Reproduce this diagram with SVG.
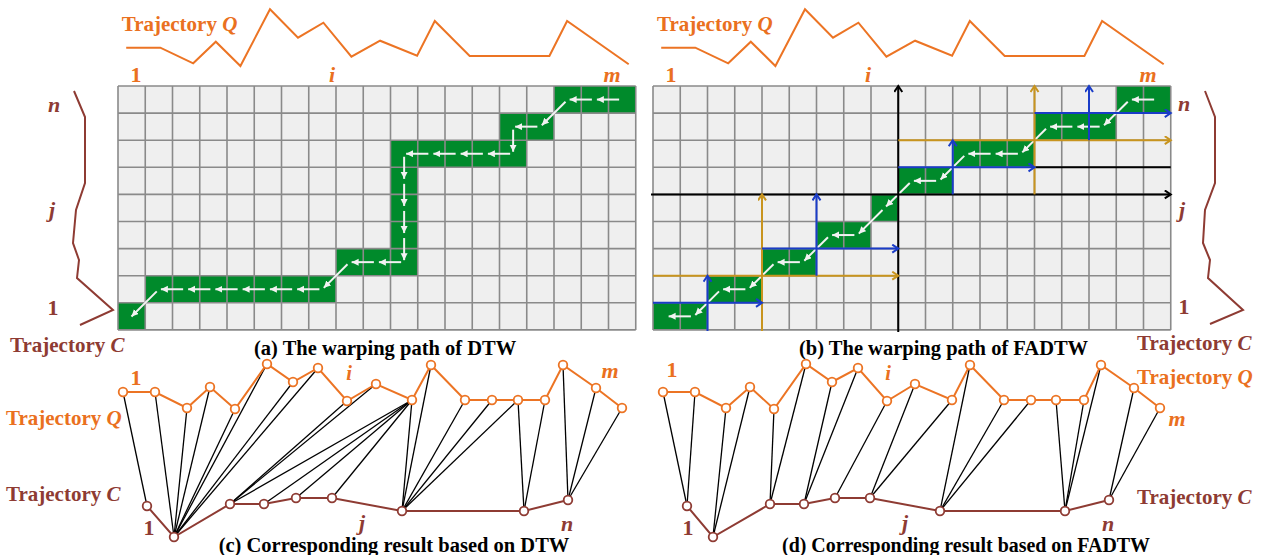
<svg xmlns="http://www.w3.org/2000/svg" xmlns:xlink="http://www.w3.org/1999/xlink" width="1261" height="555" viewBox="0 0 1261 555">
<style>
text{font-family:"Liberation Serif","Times New Roman",serif;font-weight:bold}
.or{fill:#EA7020}
.br{fill:#8E3B33}
.bk{fill:#000}
.it{font-style:italic}
.t21{font-size:21px}
.t20{font-size:20.5px}
.t22{font-size:22px}
.gl{fill:none;stroke:#8A8A8A;stroke-width:1.6}
.gc{fill:#008A2B}
.wa{stroke:#F2F2F2;stroke-width:2;fill:none;marker-end:url(#aw)}
.lb{stroke:#1A3CC8;stroke-width:2;fill:none;marker-end:url(#mb)}
.lg{stroke:#C8941E;stroke-width:2;fill:none;marker-end:url(#mg)}
.lk{stroke:#000;stroke-width:2;fill:none}
.qline{fill:none;stroke:#EC7424;stroke-width:2}
.cline{fill:none;stroke:#8E3B33;stroke-width:2}
.conn line{stroke:#000;stroke-width:1.3}
.qn circle{fill:#fff;stroke:#EC7424;stroke-width:1.8}
.cn circle{fill:#fff;stroke:#8E3B33;stroke-width:1.8}
</style>
<defs>
<marker id="aw" markerUnits="userSpaceOnUse" markerWidth="9" markerHeight="8" refX="7" refY="3.5" orient="auto"><path d="M0,0 L7,3.5 L0,7 z" fill="#F2F2F2"/></marker>
<marker id="mb" markerUnits="userSpaceOnUse" markerWidth="10" markerHeight="10" refX="7" refY="4.5" orient="auto"><path d="M1,0.5 L7,4.5 L1,8.5" fill="none" stroke="#1A3CC8" stroke-width="2"/></marker>
<marker id="mg" markerUnits="userSpaceOnUse" markerWidth="10" markerHeight="10" refX="7" refY="4.5" orient="auto"><path d="M1,0.5 L7,4.5 L1,8.5" fill="none" stroke="#C8941E" stroke-width="2"/></marker>
<marker id="mk" markerUnits="userSpaceOnUse" markerWidth="10" markerHeight="10" refX="7" refY="4.5" orient="auto"><path d="M1,0.5 L7,4.5 L1,8.5" fill="none" stroke="#000" stroke-width="2"/></marker>
<path id="gridlines" class="gl" d="M118,86V329.9M145.25,86V329.9M172.5,86V329.9M199.75,86V329.9M227,86V329.9M254.25,86V329.9M281.5,86V329.9M308.75,86V329.9M336,86V329.9M363.25,86V329.9M390.5,86V329.9M417.75,86V329.9M445,86V329.9M472.25,86V329.9M499.5,86V329.9M526.75,86V329.9M554,86V329.9M581.25,86V329.9M608.5,86V329.9M635.75,86V329.9M118,86H635.75M118,113.1H635.75M118,140.2H635.75M118,167.3H635.75M118,194.4H635.75M118,221.5H635.75M118,248.6H635.75M118,275.7H635.75M118,302.8H635.75M118,329.9H635.75"/>
</defs>

<!-- Panel (a) -->
<g id="panel-a">
  <text class="or t21" x="121.7" y="31">Trajectory <tspan class="it">Q</tspan></text>
  <polyline class="qline" points="126.2,47.7 160.3,47.7 193.2,63.3 215.8,41.7 240.4,66 270,9.3 298,37.7 323.4,22.7 351.4,56.7 380.1,40.7 417.1,55.7 434.8,21 469.7,56 549.4,56 567.1,21 628.7,64.3"/>
  <text class="or t22" x="136" y="82" text-anchor="middle">1</text>
  <text class="or t22 it" x="332" y="82" text-anchor="middle">i</text>
  <text class="or t22 it" x="612" y="82" text-anchor="middle">m</text>
  <text class="br t22 it" x="54" y="112" text-anchor="middle">n</text>
  <text class="br t22 it" x="52" y="217" text-anchor="middle">j</text>
  <text class="br t22" x="53" y="315" text-anchor="middle">1</text>
  <polyline class="cline" points="74,91 85,117 85,183 76,210 73,243 79,260 77,278 113,310 80,325"/>
  <text class="br t21" x="10" y="352">Trajectory <tspan class="it">C</tspan></text>
  <rect x="118" y="86" width="517.75" height="243.9" fill="#EFEFEF"/>
  <g id="path-a">
    <rect class="gc" x="118" y="302.8" width="27.25" height="27.1"/>
    <rect class="gc" x="145.25" y="275.7" width="190.75" height="27.1"/>
    <rect class="gc" x="336" y="248.6" width="81.75" height="27.1"/>
    <rect class="gc" x="390.5" y="167.3" width="27.25" height="81.3"/>
    <rect class="gc" x="390.5" y="140.2" width="136.25" height="27.1"/>
    <rect class="gc" x="499.5" y="113.1" width="54.5" height="27.1"/>
    <rect class="gc" x="554" y="86" width="81.75" height="27.1"/>
  </g>
  <use xlink:href="#gridlines" href="#gridlines"/>
  <g id="arrows-a">
    <line class="wa" x1="619.13" y1="99.55" x2="596.88" y2="99.55"/>
    <line class="wa" x1="591.88" y1="99.55" x2="569.63" y2="99.55"/>
    <line class="wa" x1="565.5" y1="101.67" x2="541.8" y2="125.24"/>
    <line class="wa" x1="537.38" y1="126.65" x2="515.13" y2="126.65"/>
    <line class="wa" x1="513.13" y1="129.65" x2="513.13" y2="151.75"/>
    <line class="wa" x1="510.13" y1="153.75" x2="487.88" y2="153.75"/>
    <line class="wa" x1="482.88" y1="153.75" x2="460.63" y2="153.75"/>
    <line class="wa" x1="455.63" y1="153.75" x2="433.38" y2="153.75"/>
    <line class="wa" x1="428.38" y1="153.75" x2="406.13" y2="153.75"/>
    <line class="wa" x1="404.13" y1="156.75" x2="404.13" y2="178.85"/>
    <line class="wa" x1="404.13" y1="183.85" x2="404.13" y2="205.95"/>
    <line class="wa" x1="404.13" y1="210.95" x2="404.13" y2="233.05"/>
    <line class="wa" x1="404.13" y1="238.05" x2="404.13" y2="260.15"/>
    <line class="wa" x1="401.13" y1="262.15" x2="378.88" y2="262.15"/>
    <line class="wa" x1="373.88" y1="262.15" x2="351.63" y2="262.15"/>
    <line class="wa" x1="347.5" y1="264.27" x2="323.8" y2="287.84"/>
    <line class="wa" x1="319.38" y1="289.25" x2="297.13" y2="289.25"/>
    <line class="wa" x1="292.13" y1="289.25" x2="269.88" y2="289.25"/>
    <line class="wa" x1="264.88" y1="289.25" x2="242.63" y2="289.25"/>
    <line class="wa" x1="237.63" y1="289.25" x2="215.38" y2="289.25"/>
    <line class="wa" x1="210.38" y1="289.25" x2="188.13" y2="289.25"/>
    <line class="wa" x1="183.13" y1="289.25" x2="160.88" y2="289.25"/>
    <line class="wa" x1="156.75" y1="291.37" x2="131.5" y2="316.5"/>
  </g>
  <text class="bk t20" x="254" y="355">(a) The warping path of DTW</text>
</g>

<!-- Panel (b) -->
<g id="panel-b">
  <text class="or t21" x="657" y="31">Trajectory <tspan class="it">Q</tspan></text>
  <polyline class="qline" points="661.2,47.7 695.3,47.7 728.2,63.3 750.8,41.7 775.4,66 805,9.3 833,37.7 858.4,22.7 886.4,56.7 915.1,40.7 952.1,55.7 969.8,21 1004.7,56 1084.4,56 1102.1,21 1163.7,64.3"/>
  <text class="or t22" x="671" y="82" text-anchor="middle">1</text>
  <text class="or t22 it" x="868" y="82" text-anchor="middle">i</text>
  <text class="or t22 it" x="1148" y="82" text-anchor="middle">m</text>
  <text class="br t22 it" x="1184" y="111" text-anchor="middle">n</text>
  <text class="br t22 it" x="1182" y="217" text-anchor="middle">j</text>
  <text class="br t22" x="1184" y="314" text-anchor="middle">1</text>
  <polyline class="cline" points="1205,91 1215,117 1215,183 1205,210 1203,243 1210,260 1208,278 1243,310 1210,324"/>
  <text class="br t21" x="1137" y="350">Trajectory <tspan class="it">C</tspan></text>
  <rect x="653" y="86" width="517.75" height="243.9" fill="#EFEFEF"/>
  <g id="path-b">
    <rect class="gc" x="653" y="302.8" width="54.5" height="27.1"/>
    <rect class="gc" x="707.5" y="275.7" width="54.5" height="27.1"/>
    <rect class="gc" x="762" y="248.6" width="54.5" height="27.1"/>
    <rect class="gc" x="816.5" y="221.5" width="54.5" height="27.1"/>
    <rect class="gc" x="871" y="194.4" width="27.25" height="27.1"/>
    <rect class="gc" x="898.25" y="167.3" width="54.5" height="27.1"/>
    <rect class="gc" x="952.75" y="140.2" width="81.75" height="27.1"/>
    <rect class="gc" x="1034.5" y="113.1" width="81.75" height="27.1"/>
    <rect class="gc" x="1116.25" y="86" width="54.5" height="27.1"/>
  </g>
  <use xlink:href="#gridlines" href="#gridlines" x="535"/>
  <g id="arrows-b">
    <line class="wa" x1="1154.13" y1="99.55" x2="1131.88" y2="99.55"/>
    <line class="wa" x1="1127.75" y1="101.67" x2="1104.05" y2="125.24"/>
    <line class="wa" x1="1099.63" y1="126.65" x2="1077.38" y2="126.65"/>
    <line class="wa" x1="1072.38" y1="126.65" x2="1050.13" y2="126.65"/>
    <line class="wa" x1="1046" y1="128.77" x2="1022.3" y2="152.34"/>
    <line class="wa" x1="1017.88" y1="153.75" x2="995.63" y2="153.75"/>
    <line class="wa" x1="990.63" y1="153.75" x2="968.38" y2="153.75"/>
    <line class="wa" x1="964.25" y1="155.87" x2="940.55" y2="179.44"/>
    <line class="wa" x1="936.13" y1="180.85" x2="913.88" y2="180.85"/>
    <line class="wa" x1="909.75" y1="182.97" x2="886.05" y2="206.54"/>
    <line class="wa" x1="882.5" y1="210.07" x2="858.8" y2="233.64"/>
    <line class="wa" x1="854.38" y1="235.05" x2="832.13" y2="235.05"/>
    <line class="wa" x1="828" y1="237.17" x2="804.3" y2="260.74"/>
    <line class="wa" x1="799.88" y1="262.15" x2="777.63" y2="262.15"/>
    <line class="wa" x1="773.5" y1="264.27" x2="749.8" y2="287.84"/>
    <line class="wa" x1="745.38" y1="289.25" x2="723.13" y2="289.25"/>
    <line class="wa" x1="719" y1="291.37" x2="695.3" y2="314.94"/>
    <line class="wa" x1="690.88" y1="316.35" x2="668.63" y2="316.35"/>
  </g>
  <g id="bounds-b">
    <line class="lk" x1="1034.5" y1="167.3" x2="1170.75" y2="167.3"/>
    <line class="lk" x1="898.25" y1="332" x2="898.25" y2="86" marker-end="url(#mk)"/>
    <line class="lk" x1="651" y1="194.4" x2="1170.75" y2="194.4" marker-end="url(#mk)"/>
    <line class="lg" x1="653" y1="275.7" x2="898.25" y2="275.7"/>
    <line class="lg" x1="762" y1="331" x2="762" y2="194.4"/>
    <line class="lg" x1="898.25" y1="140.2" x2="1170.75" y2="140.2"/>
    <line class="lg" x1="1034.5" y1="194.4" x2="1034.5" y2="86"/>
    <line class="lb" x1="653" y1="302.8" x2="762" y2="302.8"/>
    <line class="lb" x1="707.5" y1="331" x2="707.5" y2="275.7"/>
    <line class="lb" x1="762" y1="248.6" x2="898.25" y2="248.6"/>
    <line class="lb" x1="816.5" y1="275.7" x2="816.5" y2="194.4"/>
    <line class="lb" x1="898.25" y1="167.3" x2="1034.5" y2="167.3"/>
    <line class="lb" x1="952.75" y1="194.4" x2="952.75" y2="140.2"/>
    <line class="lb" x1="1034.5" y1="113.1" x2="1170.75" y2="113.1"/>
    <line class="lb" x1="1089" y1="140.2" x2="1089" y2="86"/>
  </g>
  <text class="bk t20" x="799" y="355">(b) The warping path of FADTW</text>
</g>

<!-- Panel (c) -->
<g id="panel-c">
  <text class="or t21" x="6" y="425">Trajectory <tspan class="it">Q</tspan></text>
  <text class="br t21" x="6" y="501">Trajectory <tspan class="it">C</tspan></text>
  <text class="or t22" x="136" y="385" text-anchor="middle">1</text>
  <text class="or t20 it" x="349" y="380" text-anchor="middle">i</text>
  <text class="or t22 it" x="610" y="378" text-anchor="middle">m</text>
  <text class="br t22" x="149" y="535" text-anchor="middle">1</text>
  <text class="br t22 it" x="362" y="530" text-anchor="middle">j</text>
  <text class="br t22 it" x="567" y="531" text-anchor="middle">n</text>
  <g class="conn" id="connectors-c">
    <line x1="123" y1="392" x2="147" y2="506"/>
    <line x1="155" y1="392" x2="174" y2="537"/>
    <line x1="187" y1="408" x2="174" y2="537"/>
    <line x1="210" y1="387" x2="174" y2="537"/>
    <line x1="235" y1="409" x2="174" y2="537"/>
    <line x1="267" y1="364" x2="174" y2="537"/>
    <line x1="293" y1="382" x2="174" y2="537"/>
    <line x1="318" y1="368" x2="174" y2="537"/>
    <line x1="347" y1="401" x2="230" y2="504"/>
    <line x1="376" y1="384" x2="230" y2="504"/>
    <line x1="412" y1="400" x2="230" y2="504"/>
    <line x1="412" y1="400" x2="264" y2="504"/>
    <line x1="412" y1="400" x2="296" y2="498"/>
    <line x1="412" y1="400" x2="332" y2="498"/>
    <line x1="412" y1="400" x2="402" y2="511"/>
    <line x1="431" y1="365" x2="402" y2="511"/>
    <line x1="465" y1="400" x2="402" y2="511"/>
    <line x1="492" y1="400" x2="402" y2="511"/>
    <line x1="518" y1="400" x2="402" y2="511"/>
    <line x1="518" y1="400" x2="524" y2="511"/>
    <line x1="545" y1="400" x2="524" y2="511"/>
    <line x1="563" y1="365" x2="568" y2="500"/>
    <line x1="596" y1="388" x2="568" y2="500"/>
    <line x1="622" y1="408" x2="568" y2="500"/>
  </g>
  <polyline class="qline" points="123,392 155,392 187,408 210,387 235,409 267,364 293,382 318,368 347,401 376,384 412,400 431,365 465,400 492,400 518,400 545,400 563,365 596,388 622,408"/>
  <polyline class="cline" points="147,506 174,537 230,504 264,504 296,498 332,498 402,511 524,511 568,500"/>
  <g class="qn">
    <circle cx="123" cy="392" r="4.3"/><circle cx="155" cy="392" r="4.3"/><circle cx="187" cy="408" r="4.3"/><circle cx="210" cy="387" r="4.3"/><circle cx="235" cy="409" r="4.3"/><circle cx="267" cy="364" r="4.3"/><circle cx="293" cy="382" r="4.3"/><circle cx="318" cy="368" r="4.3"/><circle cx="347" cy="401" r="4.3"/><circle cx="376" cy="384" r="4.3"/><circle cx="412" cy="400" r="4.3"/><circle cx="431" cy="365" r="4.3"/><circle cx="465" cy="400" r="4.3"/><circle cx="492" cy="400" r="4.3"/><circle cx="518" cy="400" r="4.3"/><circle cx="545" cy="400" r="4.3"/><circle cx="563" cy="365" r="4.3"/><circle cx="596" cy="388" r="4.3"/><circle cx="622" cy="408" r="4.3"/>
  </g>
  <g class="cn">
    <circle cx="147" cy="506" r="4.3"/><circle cx="174" cy="537" r="4.3"/><circle cx="230" cy="504" r="4.3"/><circle cx="264" cy="504" r="4.3"/><circle cx="296" cy="498" r="4.3"/><circle cx="332" cy="498" r="4.3"/><circle cx="402" cy="511" r="4.3"/><circle cx="524" cy="511" r="4.3"/><circle cx="568" cy="500" r="4.3"/>
  </g>
  <text class="bk t20" x="394" y="552" text-anchor="middle">(c) Corresponding result based on DTW</text>
</g>

<!-- Panel (d) -->
<g id="panel-d">
  <text class="or t21" x="1137" y="384">Trajectory <tspan class="it">Q</tspan></text>
  <text class="br t21" x="1137" y="504">Trajectory <tspan class="it">C</tspan></text>
  <text class="or t22" x="672" y="377" text-anchor="middle">1</text>
  <text class="or t20 it" x="888" y="380" text-anchor="middle">i</text>
  <text class="or t22 it" x="1177" y="426" text-anchor="middle">m</text>
  <text class="br t22" x="688" y="535" text-anchor="middle">1</text>
  <text class="br t22 it" x="905" y="530" text-anchor="middle">j</text>
  <text class="br t22 it" x="1108" y="531" text-anchor="middle">n</text>
  <g class="conn" id="connectors-d">
    <line x1="663" y1="392" x2="687" y2="506"/>
    <line x1="695" y1="392" x2="687" y2="506"/>
    <line x1="726" y1="408" x2="713" y2="537"/>
    <line x1="750" y1="387" x2="713" y2="537"/>
    <line x1="774" y1="409" x2="770" y2="504"/>
    <line x1="806" y1="364" x2="770" y2="504"/>
    <line x1="832" y1="382" x2="804" y2="504"/>
    <line x1="858" y1="368" x2="804" y2="504"/>
    <line x1="887" y1="401" x2="835" y2="498"/>
    <line x1="915" y1="384" x2="870" y2="498"/>
    <line x1="952" y1="400" x2="870" y2="498"/>
    <line x1="970" y1="365" x2="940" y2="511"/>
    <line x1="1004" y1="400" x2="940" y2="511"/>
    <line x1="1031" y1="400" x2="940" y2="511"/>
    <line x1="1056" y1="400" x2="1065" y2="511"/>
    <line x1="1084" y1="400" x2="1065" y2="511"/>
    <line x1="1101" y1="365" x2="1065" y2="511"/>
    <line x1="1134" y1="388" x2="1109" y2="500"/>
    <line x1="1160" y1="408" x2="1109" y2="500"/>
  </g>
  <polyline class="qline" points="663,392 695,392 726,408 750,387 774,409 806,364 832,382 858,368 887,401 915,384 952,400 970,365 1004,400 1031,400 1056,400 1084,400 1101,365 1134,388 1160,408"/>
  <polyline class="cline" points="687,506 713,537 770,504 804,504 835,498 870,498 940,511 1065,511 1109,500"/>
  <g class="qn">
    <circle cx="663" cy="392" r="4.3"/><circle cx="695" cy="392" r="4.3"/><circle cx="726" cy="408" r="4.3"/><circle cx="750" cy="387" r="4.3"/><circle cx="774" cy="409" r="4.3"/><circle cx="806" cy="364" r="4.3"/><circle cx="832" cy="382" r="4.3"/><circle cx="858" cy="368" r="4.3"/><circle cx="887" cy="401" r="4.3"/><circle cx="915" cy="384" r="4.3"/><circle cx="952" cy="400" r="4.3"/><circle cx="970" cy="365" r="4.3"/><circle cx="1004" cy="400" r="4.3"/><circle cx="1031" cy="400" r="4.3"/><circle cx="1056" cy="400" r="4.3"/><circle cx="1084" cy="400" r="4.3"/><circle cx="1101" cy="365" r="4.3"/><circle cx="1134" cy="388" r="4.3"/><circle cx="1160" cy="408" r="4.3"/>
  </g>
  <g class="cn">
    <circle cx="687" cy="506" r="4.3"/><circle cx="713" cy="537" r="4.3"/><circle cx="770" cy="504" r="4.3"/><circle cx="804" cy="504" r="4.3"/><circle cx="835" cy="498" r="4.3"/><circle cx="870" cy="498" r="4.3"/><circle cx="940" cy="511" r="4.3"/><circle cx="1065" cy="511" r="4.3"/><circle cx="1109" cy="500" r="4.3"/>
  </g>
  <text class="bk t20" x="966" y="552" text-anchor="middle" textLength="368" lengthAdjust="spacingAndGlyphs">(d) Corresponding result based on FADTW</text>
</g>
</svg>
